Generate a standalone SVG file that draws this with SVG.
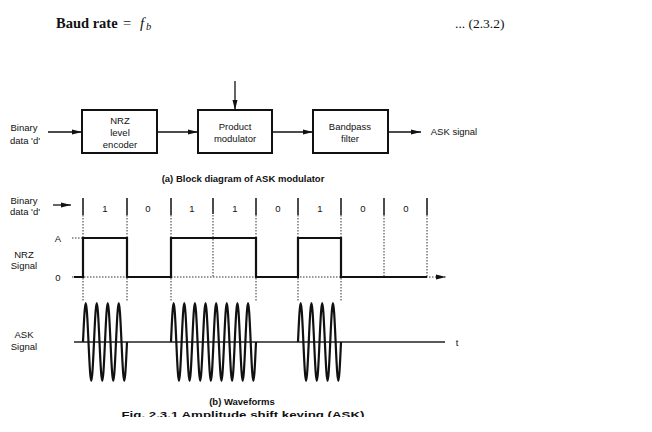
<svg xmlns="http://www.w3.org/2000/svg" width="652" height="432" viewBox="0 0 652 432">
<style>
.t{font-family:"Liberation Sans",Arial,sans-serif;font-size:9.5px;fill:#111;text-anchor:middle}
.b{font-weight:bold}
.box{fill:#fff;stroke:#111;stroke-width:2}
.ln{stroke:#111;stroke-width:1.3;fill:none}
.dot{stroke:#333;stroke-width:1;stroke-dasharray:1.5 1.5;fill:none}
.sep{stroke:#111;stroke-width:1.5}
.wave{stroke:#111;stroke-width:2.2;fill:none}
.nrz{stroke:#111;stroke-width:2.2;fill:none;stroke-linejoin:miter}
.serif{font-family:"Liberation Serif","Times New Roman",serif;fill:#111}
</style>
<defs>
<marker id="ah" viewBox="0 0 10 6" refX="10" refY="3" markerWidth="10" markerHeight="6" markerUnits="userSpaceOnUse" orient="auto">
<path d="M0,0.5 L10,3 L0,5.5 Z" fill="#111"/>
</marker>
<clipPath id="cut"><rect x="0" y="0" width="652" height="417"/></clipPath>
</defs>
<rect width="652" height="432" fill="#fff"/>

<g id="equation">
<text class="serif" x="56" y="28" font-size="14.5" font-weight="bold">Baud rate</text>
<text class="serif" x="123" y="28" font-size="14.5">=</text>
<text class="serif" x="140" y="28" font-size="15" font-style="italic">f</text>
<text class="serif" x="146" y="30" font-size="10.5" font-style="italic">b</text>
<text class="serif" x="455" y="28" font-size="13.5">... (2.3.2)</text>
</g>

<g id="input-label">
<text class="t" x="24" y="131">Binary</text>
<text class="t" x="25" y="144">data 'd'</text>
</g>
<g id="nrz-encoder">
<rect class="box" x="82" y="110" width="75" height="43"/>
<text class="t" x="120" y="124">NRZ</text>
<text class="t" x="120" y="136">level</text>
<text class="t" x="120" y="148">encoder</text>
</g>
<g id="product-modulator">
<rect class="box" x="198" y="110" width="74" height="43"/>
<text class="t" x="235" y="130">Product</text>
<text class="t" x="235" y="142">modulator</text>
</g>
<g id="bandpass-filter">
<rect class="box" x="313" y="110" width="75" height="43"/>
<text class="t" x="350" y="130">Bandpass</text>
<text class="t" x="350" y="142">filter</text>
</g>
<g id="output-label">
<text class="t" x="454" y="135" font-size="10">ASK signal</text>
</g>

<g id="connectors">
<line class="ln" x1="48" y1="132" x2="82" y2="132" marker-end="url(#ah)"/>
<line class="ln" x1="157" y1="132" x2="198" y2="132" marker-end="url(#ah)"/>
<line class="ln" x1="235" y1="81" x2="235" y2="110" marker-end="url(#ah)"/>
<line class="ln" x1="272" y1="132" x2="313" y2="132" marker-end="url(#ah)"/>
<line class="ln" x1="388" y1="132" x2="421" y2="132" marker-end="url(#ah)"/>
</g>

<text class="t b" x="243" y="182" font-size="9.5">(a) Block diagram of ASK modulator</text>

<g id="waveforms">
<text class="t" x="24" y="204" font-size="9">Binary</text>
<text class="t" x="25" y="215" font-size="9">data 'd'</text>
<line class="ln" x1="53" y1="205" x2="71" y2="205" marker-end="url(#ah)"/>

<g id="bit-separators">
<line class="sep" x1="83" y1="198" x2="83" y2="215"/>
<line class="sep" x1="127" y1="198" x2="127" y2="215"/>
<line class="sep" x1="171" y1="198" x2="171" y2="215"/>
<line class="sep" x1="213" y1="198" x2="213" y2="214" stroke-width="1"/>
<line class="sep" x1="256" y1="198" x2="256" y2="215"/>
<line class="sep" x1="298" y1="198" x2="298" y2="215"/>
<line class="sep" x1="341" y1="198" x2="341" y2="215"/>
<line class="sep" x1="384" y1="198" x2="384" y2="215"/>
<line class="sep" x1="427" y1="198" x2="427" y2="215"/>
<path class="dot" d="M83,215V302 M127,215V302 M171,215V302 M213,215V277 M256,215V302 M298,215V302 M341,215V302 M384,215V277 M427,215V277"/>
</g>

<g id="bits">
<text class="t" x="105" y="212">1</text>
<text class="t" x="148" y="212">0</text>
<text class="t" x="192" y="212">1</text>
<text class="t" x="235" y="212">1</text>
<text class="t" x="278" y="212">0</text>
<text class="t" x="320" y="212">1</text>
<text class="t" x="363" y="212">0</text>
<text class="t" x="406" y="212">0</text>
</g>

<g id="nrz-signal">
<text class="t" x="58" y="242" font-size="10">A</text>
<text class="t" x="58" y="281" font-size="10">0</text>
<text class="t" x="24" y="258" font-size="9">NRZ</text>
<text class="t" x="24" y="269" font-size="9">Signal</text>
<path class="dot" d="M72,238H83"/>
<line class="dot" x1="72" y1="277" x2="446" y2="277" stroke-dasharray="3 2" marker-end="url(#ah)"/>
<path class="nrz" d="M74,277H83V238H127V277H171V238H256V277H298V238H341V277H427"/>
</g>

<g id="ask-signal">
<text class="t" x="24" y="338" font-size="9">ASK</text>
<text class="t" x="24" y="350" font-size="9">Signal</text>
<line x1="74" y1="342" x2="445" y2="342" stroke="#222" stroke-width="1.6"/>
<text class="t" x="457" y="346" font-size="10">t</text>
<path class="wave" d="M83,342
c2.334,-52 3.166,-52 5.5,0 c2.334,52 3.166,52 5.5,0
c2.334,-52 3.166,-52 5.5,0 c2.334,52 3.166,52 5.5,0
c2.334,-52 3.166,-52 5.5,0 c2.334,52 3.166,52 5.5,0
c2.334,-52 3.166,-52 5.5,0 c2.334,52 3.166,52 5.5,0"/>
<path class="wave" d="M171,342
c2.255,-52 3.058,-52 5.3125,0 c2.255,52 3.058,52 5.3125,0
c2.255,-52 3.058,-52 5.3125,0 c2.255,52 3.058,52 5.3125,0
c2.255,-52 3.058,-52 5.3125,0 c2.255,52 3.058,52 5.3125,0
c2.255,-52 3.058,-52 5.3125,0 c2.255,52 3.058,52 5.3125,0
c2.255,-52 3.058,-52 5.3125,0 c2.255,52 3.058,52 5.3125,0
c2.255,-52 3.058,-52 5.3125,0 c2.255,52 3.058,52 5.3125,0
c2.255,-52 3.058,-52 5.3125,0 c2.255,52 3.058,52 5.3125,0
c2.255,-52 3.058,-52 5.3125,0 c2.255,52 3.058,52 5.3125,0"/>
<path class="wave" d="M298,342
c2.281,-52 3.094,-52 5.375,0 c2.281,52 3.094,52 5.375,0
c2.281,-52 3.094,-52 5.375,0 c2.281,52 3.094,52 5.375,0
c2.281,-52 3.094,-52 5.375,0 c2.281,52 3.094,52 5.375,0
c2.281,-52 3.094,-52 5.375,0 c2.281,52 3.094,52 5.375,0"/>
</g>
</g>

<text class="t b" x="242" y="405" font-size="9.5">(b) Waveforms</text>
<text class="t b" x="243" y="418" font-size="11.5" textLength="243" lengthAdjust="spacingAndGlyphs" clip-path="url(#cut)">Fig. 2.3.1 Amplitude shift keying (ASK)</text>
</svg>
